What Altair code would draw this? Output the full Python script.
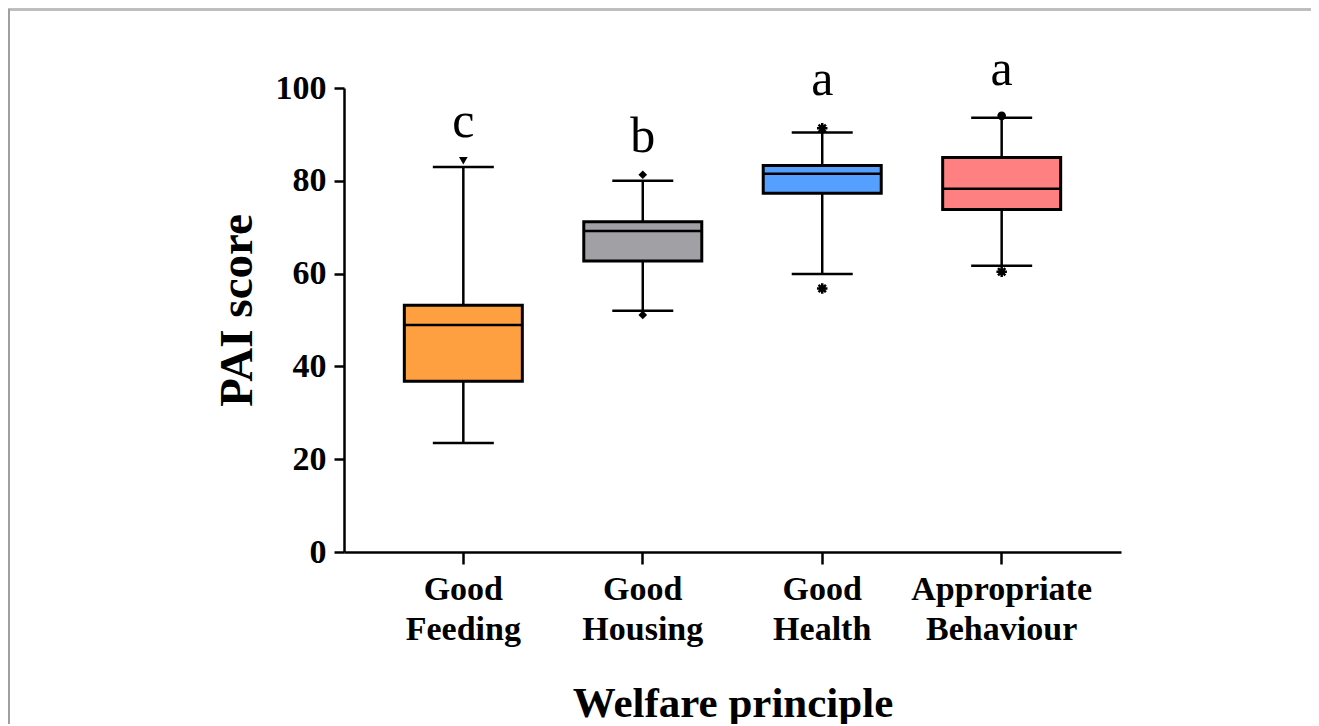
import altair as alt
import pandas as pd

categories = ["Good Feeding", "Good Housing", "Good Health", "Appropriate Behaviour"]
whisker_low = [23.5, 52.0, 59.9, 61.7]
q1 = [36.8, 62.7, 77.3, 73.8]
median = [48.9, 69.2, 81.5, 78.3]
q3 = [53.2, 71.2, 83.3, 85.0]
whisker_high = [83.0, 80.0, 90.4, 93.6]
box_colors = ["#FFA040", "#A1A0A5", "#55A0FF", "#FF8080"]
letters = ["c", "b", "a", "a"]
letter_y = [89.5, 86.3, 98.5, 100.6]

marker_cat = ["Good Feeding", "Good Housing", "Good Housing", "Good Health",
              "Good Health", "Appropriate Behaviour", "Appropriate Behaviour"]
marker_val = [84.3, 81.3, 51.1, 91.3, 56.8, 94.0, 60.4]
marker_shape = ["triangle-down", "diamond", "diamond", "asterisk", "asterisk",
                "circle", "asterisk"]

FONT = "Liberation Serif"

df = pd.DataFrame({
    "cat": categories, "lo": whisker_low, "q1": q1, "med": median,
    "q3": q3, "hi": whisker_high, "color": box_colors,
    "letter": letters, "ly": letter_y,
})
mk = pd.DataFrame({"cat": marker_cat, "v": marker_val, "shape": marker_shape})

xenc = alt.X("cat:N", sort=categories,
             scale=alt.Scale(paddingInner=0, paddingOuter=0.165),
             axis=alt.Axis(title="Welfare principle", labelAngle=0,
                           labelExpr="split(datum.label, ' ')", labelLimit=0,
                           labelFont=FONT, labelFontSize=34, labelFontWeight="bold",
                           labelColor="black", labelLineHeight=40, labelPadding=8,
                           titleFont=FONT, titleFontSize=43, titleFontWeight="bold",
                           titleColor="black", titlePadding=36,
                           domainColor="black", domainWidth=2.5,
                           tickColor="black", tickWidth=2.5, tickSize=12))
yscale = alt.Scale(domain=[0, 100], nice=False)
yaxis = alt.Axis(title="PAI score", values=[0, 20, 40, 60, 80, 100], grid=False,
                 labelFont=FONT, labelFontSize=34, labelFontWeight="bold",
                 labelColor="black", labelPadding=8,
                 titleFont=FONT, titleFontSize=47, titleFontWeight="bold",
                 titleColor="black", titlePadding=14, titleY=222,
                 domainColor="black", domainWidth=2.5,
                 tickColor="black", tickWidth=2.5, tickSize=10)

base = alt.Chart(df)

whisk = base.mark_rule(color="black", strokeWidth=2.5).encode(
    x=xenc, y=alt.Y("lo:Q", scale=yscale, axis=yaxis), y2="hi:Q")

box = base.mark_bar(size=118, stroke="black", strokeWidth=3, opacity=1).encode(
    x=alt.X("cat:N", sort=categories), y="q1:Q", y2="q3:Q",
    fill=alt.Fill("color:N", scale=None))

med = base.mark_tick(size=118, thickness=2.5, color="black", opacity=1).encode(
    x=alt.X("cat:N", sort=categories), y="med:Q")
cap_lo = base.mark_tick(size=61, thickness=2.5, color="black", opacity=1).encode(
    x=alt.X("cat:N", sort=categories), y="lo:Q")
cap_hi = base.mark_tick(size=61, thickness=2.5, color="black", opacity=1).encode(
    x=alt.X("cat:N", sort=categories), y="hi:Q")

filled_pts = alt.Chart(mk).transform_filter("datum.shape != 'asterisk'").mark_point(
    filled=True, color="black", size=75, opacity=1).encode(
    x=alt.X("cat:N", sort=categories), y="v:Q",
    shape=alt.Shape("shape:N", scale=None))

ast_path = "M-1,0L1,0M0,-1L0,1M-0.7,-0.7L0.7,0.7M-0.7,0.7L0.7,-0.7"
ast_pts = alt.Chart(mk).transform_filter("datum.shape == 'asterisk'").mark_point(
    shape=ast_path, filled=False, color="black", size=110, strokeWidth=2.5,
    opacity=1).encode(x=alt.X("cat:N", sort=categories), y="v:Q")

txt = base.mark_text(font=FONT, fontSize=50, color="black",
                     baseline="alphabetic").encode(
    x=alt.X("cat:N", sort=categories), y="ly:Q", text="letter:N")

frame_top = alt.Chart(df).mark_rule(color="#bbbbbb", strokeWidth=2).encode(
    x=alt.value(-340), x2=alt.value(980), y=alt.value(-78.5))
frame_left = alt.Chart(df).mark_rule(color="#a0a0a0", strokeWidth=2).encode(
    x=alt.value(-335), y=alt.value(-78.5), y2=alt.value(700))

chart = alt.layer(frame_top, frame_left, whisk, box, med, cap_lo, cap_hi,
                  filled_pts, ast_pts, txt).properties(
    width=777, height=464,
    autosize=alt.AutoSizeParams(type="none"),
    padding={"left": 336, "top": 80, "right": 190, "bottom": 172},
).configure(background="white").configure_view(stroke=None)

chart.save("out.html", embed_options={"renderer": "svg", "actions": False})
